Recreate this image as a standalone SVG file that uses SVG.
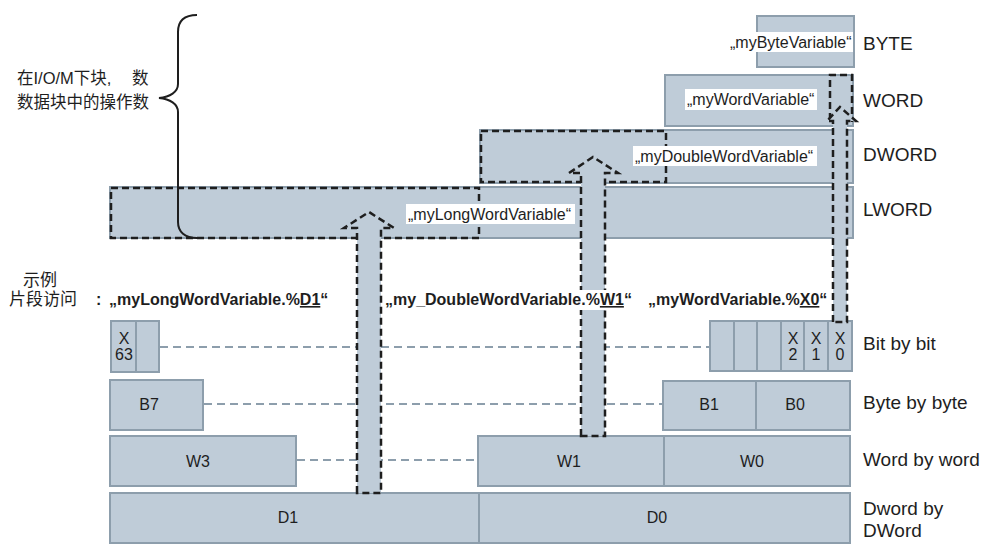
<svg xmlns="http://www.w3.org/2000/svg" width="989" height="548" viewBox="0 0 989 548">
<style>
.box{fill:#bfccd8;stroke:#8d9eac;stroke-width:2}
.div{stroke:#8d9eac;stroke-width:2;fill:none}
.dash{fill:none;stroke:#1e1e1e;stroke-width:2.5;stroke-dasharray:7 4}
.arrow{fill:#bfccd8;stroke:#1e1e1e;stroke-width:2.5;stroke-dasharray:7 4;stroke-linejoin:miter}
.conn{stroke:#8d9eac;stroke-width:2;stroke-dasharray:8 5;fill:none}
.lbl{font-family:"Liberation Sans",Arial,sans-serif;font-size:16px;fill:#1e1e1e}
.bold{font-family:"Liberation Sans",Arial,sans-serif;font-size:16px;font-weight:bold;fill:#1e1e1e}
.side{font-family:"Liberation Sans",Arial,sans-serif;font-size:19px;fill:#1e1e1e}
.cell{font-family:"Liberation Sans",Arial,sans-serif;font-size:16px;fill:#1e1e1e;text-anchor:middle}
.bit{font-family:"Liberation Sans",Arial,sans-serif;font-size:16px;fill:#1e1e1e;text-anchor:middle}
.cjk{font-family:"Liberation Sans","Noto Sans CJK SC",sans-serif;fill:#1e1e1e}
.wbg{fill:#ffffff}
</style>

<!-- upper variable boxes -->
<g id="lword">
  <rect class="box" x="110" y="187" width="743" height="51"/>
  <rect class="dash" x="111" y="188" width="368" height="50"/>
</g>
<g id="dword">
  <rect class="box" x="480" y="130" width="373" height="53"/>
  <rect class="dash" x="481" y="131" width="185" height="51"/>
</g>
<g id="word">
  <rect class="box" x="665" y="75" width="188" height="51"/>
  <path class="dash" d="M830,120 V75 H852 V122"/>
</g>
<g id="byte">
  <rect class="box" x="757" y="16" width="97" height="51"/>
</g>

<!-- left annotation -->
<g id="annotation">
  <text class="cjk" x="17" y="84" font-size="16.5">在I/O/M下块, <tspan x="132">数</tspan></text>
  <text class="cjk" x="17" y="108" font-size="16.5">数据块中的操作数</text>
  <path d="M197,15 C185,15 178,20 178,32 L178,84 C178,92 170,97 159,98 C170,99 178,104 178,112 L178,222 C178,232 185,238 197,238" fill="none" stroke="#1e1e1e" stroke-width="2"/>
</g>

<!-- type labels on right -->
<g id="type-labels">
  <text class="side" x="863" y="50">BYTE</text>
  <text class="side" x="863" y="107">WORD</text>
  <text class="side" x="863" y="161">DWORD</text>
  <text class="side" x="863" y="216">LWORD</text>
  <text class="side" x="863" y="350">Bit by bit</text>
  <text class="side" x="863" y="409">Byte by byte</text>
  <text class="side" x="863" y="466">Word by word</text>
  <text class="side" x="863" y="515">Dword by</text>
  <text class="side" x="863" y="537">DWord</text>
</g>

<!-- bit by bit row -->
<g id="bits-left">
  <rect class="box" x="111" y="321" width="48" height="51"/>
  <line class="div" x1="136" y1="321" x2="136" y2="372"/>
  <text class="bit" x="124" y="344">X</text>
  <text class="bit" x="124" y="360">63</text>
</g>
<g id="bits-right">
  <rect class="box" x="710" y="321" width="142" height="50"/>
  <line class="div" x1="734" y1="321" x2="734" y2="371"/>
  <line class="div" x1="757" y1="321" x2="757" y2="371"/>
  <line class="div" x1="781" y1="321" x2="781" y2="371"/>
  <line class="div" x1="804" y1="321" x2="804" y2="371"/>
  <line class="div" x1="828" y1="321" x2="828" y2="371"/>
  <text class="bit" x="793" y="344">X</text>
  <text class="bit" x="793" y="360">2</text>
  <text class="bit" x="816" y="344">X</text>
  <text class="bit" x="816" y="360">1</text>
  <text class="bit" x="840" y="344">X</text>
  <text class="bit" x="840" y="360">0</text>
</g>

<!-- byte row -->
<g id="byte-b7">
  <rect class="box" x="110" y="380" width="93" height="50"/>
  <text class="cell" x="149" y="410">B7</text>
</g>
<g id="byte-b1-b0">
  <rect class="box" x="663" y="381" width="187" height="49"/>
  <line class="div" x1="756" y1="381" x2="756" y2="430"/>
  <text class="cell" x="709" y="410">B1</text>
  <text class="cell" x="795" y="410">B0</text>
</g>

<!-- word row -->
<g id="word-w3">
  <rect class="box" x="110" y="436" width="186" height="50"/>
  <text class="cell" x="198" y="467">W3</text>
</g>
<g id="word-w1-w0">
  <rect class="box" x="478" y="436" width="372" height="50"/>
  <line class="div" x1="664" y1="436" x2="664" y2="486"/>
  <text class="cell" x="569" y="467">W1</text>
  <text class="cell" x="752" y="467">W0</text>
</g>

<!-- dword row -->
<g id="dword-row">
  <rect class="box" x="110" y="493" width="740" height="50"/>
  <line class="div" x1="479" y1="493" x2="479" y2="543"/>
  <text class="cell" x="288" y="523">D1</text>
  <text class="cell" x="657" y="523">D0</text>
</g>

<!-- connectors -->
<g id="connectors">
  <line class="conn" x1="160" y1="347" x2="710" y2="347"/>
  <line class="conn" x1="204" y1="404" x2="663" y2="404"/>
  <line class="conn" x1="297" y1="460" x2="478" y2="460"/>
  <polygon class="arrow" points="357,493 357,228 344,228 369,212 394,228 381,228 381,493"/>
  <polygon class="arrow" points="581,436 581,173 569,173 593,157 618,173 605,173 605,436"/>
  <polygon class="arrow" points="833,322 833,121 827,121 840,107 856,121 847,121 847,322"/>
</g>

<!-- example heading -->
<g id="example">
  <text class="cjk" x="23" y="286" font-size="17">示例</text>
  <text class="cjk" x="9" y="305" font-size="17">片段访问</text>
  <text class="bold" x="96" y="305">:<tspan x="109">„myLongWordVariable.%</tspan><tspan text-decoration="underline">D1</tspan>“</text>
  <rect class="wbg" x="384" y="290" width="248" height="20"/>
  <text class="bold" x="385" y="305">„my_DoubleWordVariable.%<tspan text-decoration="underline">W1</tspan>“</text>
  <text class="bold" x="648" y="305">„myWordVariable.%<tspan text-decoration="underline">X0</tspan>“</text>
</g>

<!-- variable name labels -->
<g id="var-labels">
  <rect class="wbg" x="728" y="32" width="125" height="20"/>
  <text class="lbl" x="730" y="48">„myByteVariable“</text>
  <rect class="wbg" x="685" y="89" width="132" height="21"/>
  <text class="lbl" x="687" y="105">„myWordVariable“</text>
  <rect class="wbg" x="633" y="146" width="184" height="20"/>
  <text class="lbl" x="635" y="162">„myDoubleWordVariable“</text>
  <rect class="wbg" x="406" y="204" width="169" height="20"/>
  <text class="lbl" x="408" y="220">„myLongWordVariable“</text>
</g>
</svg>
